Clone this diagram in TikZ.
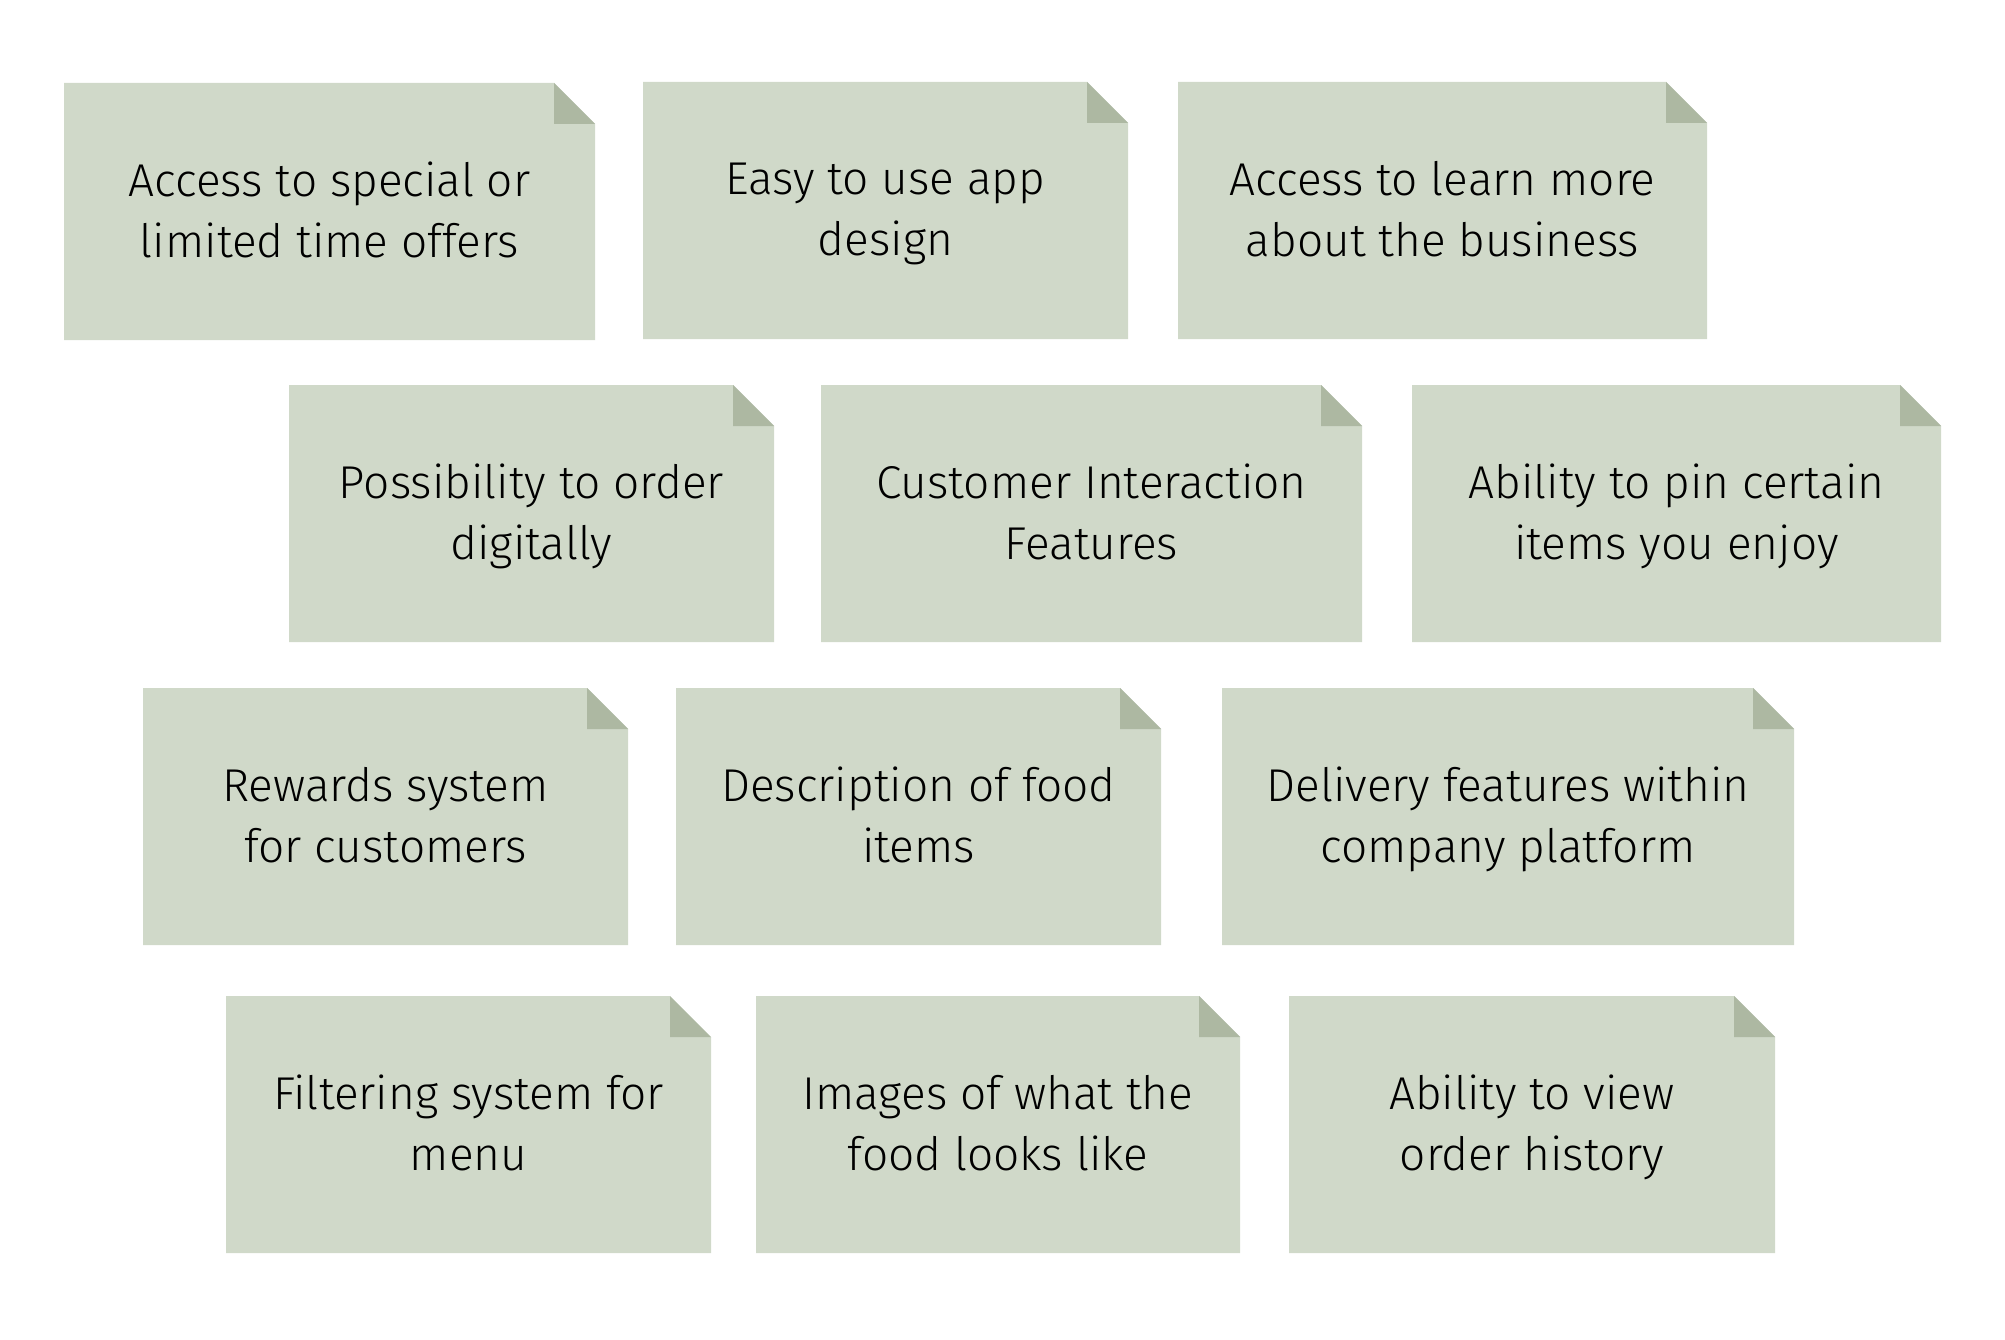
\documentclass[tikz,border=0pt]{standalone}
\usepackage{fontspec}
\setmainfont{Fira Sans Light}
\definecolor{notefill}{HTML}{D0D9C9}
\definecolor{notefold}{HTML}{ADB8A2}
\newcommand\notebox[6]{%
  \fill[notefill] (#2,#3) -- ({#4-41},#3) -- (#4,{#3+41}) -- (#4,#5) -- (#2,#5) -- cycle;
  \fill[notefold] ({#4-41},#3) -- ({#4-41},{#3+41}) -- (#4,{#3+41}) -- cycle;
  \node[notetext] (#1) at ({(#2+#4)/2},{(#3+#5)/2+4}) {\nstrut #6\nstrut};
}
\newcommand\nstrut{\rule[-12pt]{0pt}{45pt}}
\tikzset{notetext/.style={align=center, text=black, font=\fontsize{46}{61}\selectfont, inner sep=0pt}}
\begin{document}
\begin{tikzpicture}[x=1pt,y=-1pt]
\useasboundingbox (0,0) rectangle (2005,1340);
\fill[white] (0,0) rectangle (2005,1340);
\notebox{a}{64}{83}{595}{340}{Access to special or\\limited time offers}
\notebox{b}{643}{82}{1128}{339}{Easy to use app\\design}
\notebox{c}{1178}{82}{1707}{339}{Access to learn more\\about the business}
\notebox{d}{289}{385}{774}{642}{Possibility to order\\digitally}
\notebox{e}{821}{385}{1362}{642}{Customer Interaction\\Features}
\notebox{f}{1412}{385}{1941}{642}{Ability to pin certain\\items you enjoy}
\notebox{g}{143}{688}{628}{945}{Rewards system\\for customers}
\notebox{h}{676}{688}{1161}{945}{Description of food\\items}
\notebox{i}{1222}{688}{1794}{945}{Delivery features within\\company platform}
\notebox{j}{226}{996}{711}{1253}{Filtering system for\\menu}
\notebox{k}{756}{996}{1240}{1253}{Images of what the\\food looks like}
\notebox{l}{1289}{996}{1775}{1253}{Ability to view\\order history}
\end{tikzpicture}
\end{document}
